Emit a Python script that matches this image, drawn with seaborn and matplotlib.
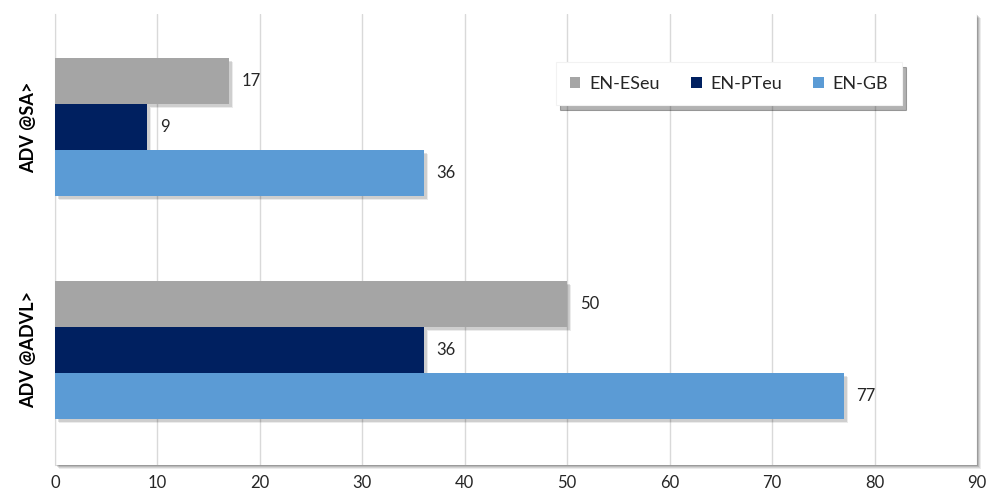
import matplotlib
matplotlib.use("Agg")
import matplotlib.pyplot as plt
import matplotlib.patheffects as pe
from matplotlib.patches import Rectangle
import seaborn as sns
import pandas as pd

categories = ["ADV @SA>", "ADV @ADVL>"]
series = ["EN-ESeu", "EN-PTeu", "EN-GB"]
values_eseu = [17, 50]
values_pteu = [9, 36]
values_gb = [36, 77]
x_ticks = [0, 10, 20, 30, 40, 50, 60, 70, 80, 90]
colors = ["#A5A5A5", "#002060", "#5B9BD5"]

rows = []
for name, vals in zip(series, [values_eseu, values_pteu, values_gb]):
    for cat, v in zip(categories, vals):
        rows.append({"category": cat, "series": name, "value": v})
df = pd.DataFrame(rows)

sns.set_style("white")
plt.rcParams["font.family"] = ["Lato", "DejaVu Sans"]

fig = plt.figure(figsize=(9.87, 4.93), dpi=100)
ax = fig.add_axes([55 / 987, 28 / 493, 922 / 987, 451 / 493])

# soft drop shadow behind the plot area
for i, a in enumerate([0.08, 0.10, 0.12, 0.16]):
    off = (4 - i) * 1.0
    fig.patches.append(Rectangle(((55 + off) / 987, (28 - off) / 493),
                                 922 / 987, 451 / 493, transform=fig.transFigure,
                                 facecolor="#000000", alpha=a, edgecolor="none", zorder=-5))

sns.barplot(data=df, y="category", x="value", hue="series", order=categories,
            hue_order=series, palette=colors, orient="h", width=0.62,
            saturation=1, ax=ax, legend=True, zorder=3, linewidth=0, edgecolor="none")

# soft shadow under each bar
for bar in ax.patches:
    bar.set_linewidth(0)
    bar.set_path_effects([pe.SimplePatchShadow(offset=(3, -3), shadow_rgbFace="#000000", alpha=0.08),
                          pe.SimplePatchShadow(offset=(2, -2), shadow_rgbFace="#000000", alpha=0.12),
                          pe.Normal()])

for cont in ax.containers:
    ax.bar_label(cont, labels=[f"{int(v)}" for v in cont.datavalues], padding=9,
                 fontsize=12, color="#262626")

ax.set_xlim(0, 90)
ax.set_ylim(1.516, -0.507)
ax.set_xticks(x_ticks)
ax.set_xticklabels([str(t) for t in x_ticks], fontsize=12, color="#262626")
ax.tick_params(axis="x", length=0, pad=7)
ax.tick_params(axis="y", length=0, pad=13)
for lbl in ax.get_yticklabels():
    lbl.set_rotation(90)
    lbl.set_va("center")
    lbl.set_fontweight("bold")
    lbl.set_fontsize(13)
    lbl.set_color("#000000")
ax.set_xlabel("")
ax.set_ylabel("")
ax.grid(axis="x", color="#D9D9D9", linewidth=1, zorder=0)
ax.set_axisbelow(True)
for s in ax.spines.values():
    s.set_visible(False)
ax.spines["left"].set_visible(True)
ax.spines["left"].set_color("#D9D9D9")
ax.set_facecolor("white")

handles, labels = ax.get_legend_handles_labels()
for h in handles:
    h.set_linewidth(0)
    h.set_path_effects([])
leg = ax.legend(handles, labels, loc="center", bbox_to_anchor=(0.731, 0.845), ncol=3,
                frameon=True, fancybox=False,
                shadow={"color": "#000000", "alpha": 0.3, "ox": 3, "oy": -3},
                fontsize=13, handlelength=0.6, handleheight=0.6, handletextpad=0.5,
                columnspacing=1.7, borderpad=0.75, borderaxespad=0)
leg.get_frame().set_edgecolor("#F2F2F2")
leg.get_frame().set_linewidth(0.8)
for t in leg.get_texts():
    t.set_color("#262626")

fig.savefig("out.png", dpi=100)
